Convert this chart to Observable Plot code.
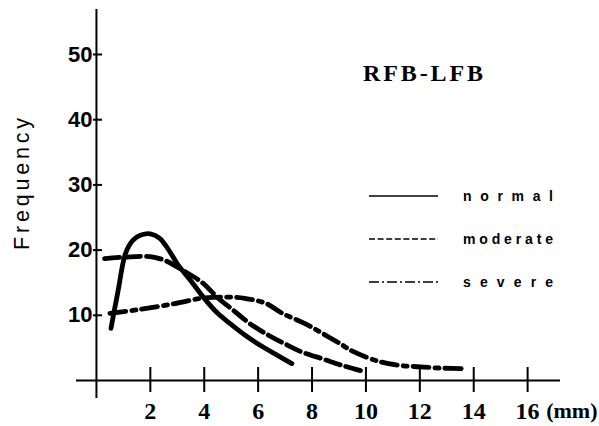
<!DOCTYPE html>
<html><head><meta charset="utf-8">
<script src="https://cdn.jsdelivr.net/npm/d3@7"></script>
<script src="https://cdn.jsdelivr.net/npm/@observablehq/plot@0.6"></script>
<style>body{margin:0;background:#fff} #chart{width:599px;height:426px}</style>
</head><body><div id="chart"></div>
<script>
const xTicks = [2, 4, 6, 8, 10, 12, 14, 16];
const yTicks = [10, 20, 30, 40, 50];
const seriesNames = ["normal", "moderate", "severe"];
const titleText = "RFB-LFB";
const yLabel = "Frequency";
const xUnit = "(mm)";

const normalX = [0.54, 0.8, 1.08, 1.35, 1.65, 2.0, 2.35, 2.7, 3.0, 3.5, 4.0, 4.5, 5.0, 5.6, 6.2, 6.7, 7.25];
const normalY = [8.0, 13.7, 19.5, 21.5, 22.3, 22.5, 21.8, 19.9, 17.9, 15.3, 12.6, 10.3, 8.6, 6.7, 5.1, 3.9, 2.6];

const moderateX = [0.3, 1.0, 2.0, 2.6, 3.2, 3.9, 4.5, 5.1, 5.7, 6.4, 7.0, 7.6, 8.4, 9.2, 9.9];
const moderateY = [18.7, 18.9, 19.0, 18.3, 16.9, 15.1, 12.7, 10.7, 8.7, 6.9, 5.6, 4.4, 3.3, 2.2, 1.4];

const severeX = [0.5, 1.6, 2.9, 3.9, 4.7, 5.5, 6.3, 6.9, 7.7, 8.4, 9.1, 9.5, 10.5, 11.3, 12.0, 12.8, 13.7];
const severeY = [10.3, 10.9, 11.8, 12.6, 12.8, 12.6, 11.8, 10.3, 8.8, 7.2, 5.5, 4.5, 2.9, 2.3, 2.1, 1.9, 1.8];

const toRows = (xs, ys) => xs.map((x, i) => ({x, y: ys[i]}));
const normal = toRows(normalX, normalY);
const moderate = toRows(moderateX, moderateY);
const severe = toRows(severeX, severeY);

const curveDash = {normal: null, moderate: "15,6", severe: "16,6,4,6"};
const legendDash = {normal: null, moderate: "6,2.6", severe: "10,3,2,3"};

function overlay(index, scales, values, dims) {
  const g = d3.create("svg:g").attr("fill", "#000").attr("text-anchor", "start");
  g.append("text")
    .attr("x", 363).attr("y", 80.5)
    .attr("text-anchor", "start")
    .attr("font-family", "'Liberation Serif', serif")
    .attr("font-weight", "bold").attr("font-size", 24)
    .attr("textLength", 120).attr("lengthAdjust", "spacing")
    .text(titleText);
  g.append("text")
    .attr("transform", "translate(29,184) rotate(-90)")
    .attr("text-anchor", "middle")
    .attr("font-family", "'Liberation Sans', sans-serif")
    .attr("font-size", 21.5)
    .attr("fill", "#000")
    .attr("textLength", 132).attr("lengthAdjust", "spacing")
    .text(yLabel);
  seriesNames.forEach((name, i) => {
    const cy = 196 + i * 43;
    g.append("line")
      .attr("x1", 369).attr("x2", 438).attr("y1", cy).attr("y2", cy)
      .attr("stroke", "#000").attr("stroke-width", 1.6)
      .attr("stroke-dasharray", legendDash[name]);
    g.append("text")
      .attr("x", 463).attr("y", cy + 4.5)
      .attr("text-anchor", "start")
      .attr("font-family", "'Liberation Sans', sans-serif")
      .attr("font-weight", "bold").attr("font-size", 14)
      .attr("textLength", 90).attr("lengthAdjust", "spacing")
      .text(name);
  });
  return g.node();
}

const plot = Plot.plot({
  width: 599,
  height: 426,
  marginLeft: 76,
  marginRight: 39,
  marginTop: 9,
  marginBottom: 28,
  style: {background: "#fff", color: "#000", fontFamily: "'Liberation Sans', sans-serif"},
  x: {domain: [-0.74, 17.22]},
  y: {domain: [-2.76, 56.9]},
  marks: [
    Plot.ruleX([0], {strokeWidth: 2}),
    Plot.ruleY([0], {strokeWidth: 2}),
    Plot.axisX(xTicks, {anchor: "bottom", tickSize: 25, dy: -31, tickPadding: 9,
      strokeWidth: 2, fontSize: 24, fontFamily: "'Liberation Serif', serif", fontWeight: "bold",
      tickFormat: d => String(d), label: null}),
    Plot.axisY(yTicks, {anchor: "left", tickSize: 9, dx: 26, tickPadding: 1,
      strokeWidth: 2, fontSize: 22, fontFamily: "'Liberation Sans', sans-serif", fontWeight: "bold",
      tickFormat: d => String(d), label: null}),
    Plot.line(normal, {x: "x", y: "y", curve: "catmull-rom", strokeWidth: 4.8, strokeLinecap: "round"}),
    Plot.line(moderate, {x: "x", y: "y", curve: "catmull-rom", strokeWidth: 4.8, strokeDasharray: curveDash.moderate}),
    Plot.line(severe, {x: "x", y: "y", curve: "catmull-rom", strokeWidth: 4.8, strokeDasharray: curveDash.severe}),
    Plot.text([xUnit], {frameAnchor: "bottom-right", dx: 37, dy: 12, textAnchor: "end", lineAnchor: "middle",
      fontSize: 22, fontFamily: "'Liberation Serif', serif", fontWeight: "bold"}),
    overlay
  ]
});
document.getElementById("chart").appendChild(plot);
</script>
</body></html>
